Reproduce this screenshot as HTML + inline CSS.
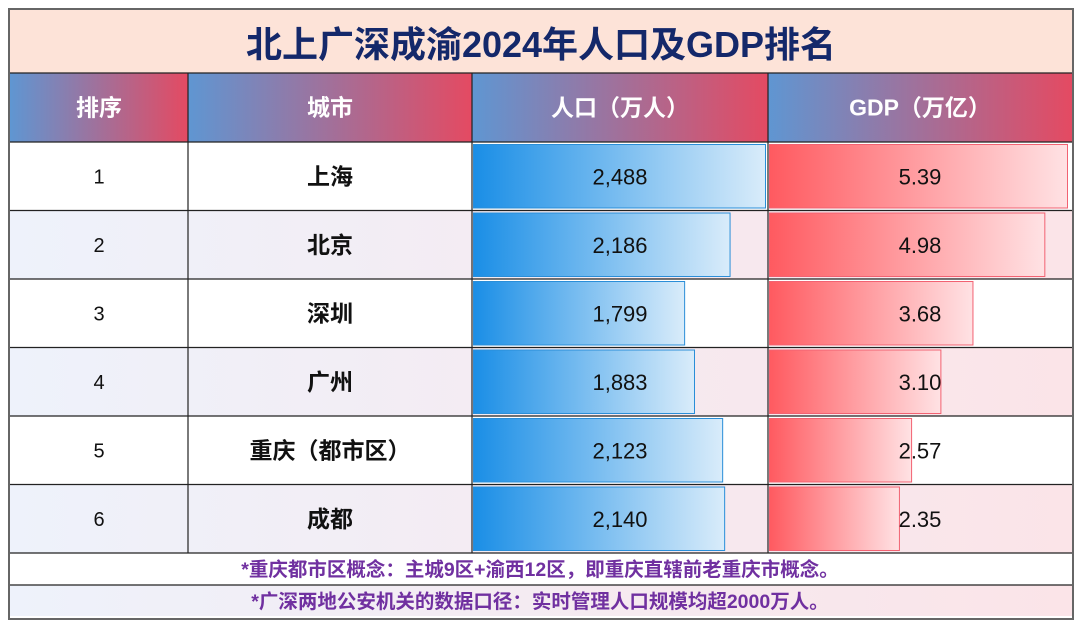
<!DOCTYPE html>
<html><head><meta charset="utf-8">
<style>
body{margin:0;width:1080px;height:626px;background:#fff;font-family:"Liberation Sans","Noto Sans CJK SC",sans-serif;position:relative;overflow:hidden}
#frame{position:absolute;left:8px;top:8px;width:1062px;height:608px;border:2px solid #666;box-sizing:content-box}
.cell{position:absolute;display:flex;align-items:center;justify-content:center}
</style></head><body>
<div id="frame"></div>
<div class="cell" style="left:10px;top:10px;width:1062px;height:63px;background:#fde3d8;color:#14286a;font-size:36px;font-weight:bold">北上广深成渝2024年人口及GDP排名</div>
<svg id="chart" width="1080" height="626" style="position:absolute;left:0;top:0">
<defs>
<linearGradient id="hg" x1="0" x2="1"><stop offset="0" stop-color="#5f96d2"/><stop offset="1" stop-color="#e44a62"/></linearGradient>
<linearGradient id="rowg" x1="0" x2="1"><stop offset="0" stop-color="#eef2fb"/><stop offset="1" stop-color="#fbe4e8"/></linearGradient>
<linearGradient id="bg" x1="0" x2="1"><stop offset="0" stop-color="#1a8ee6"/><stop offset="1" stop-color="#d9ecfa"/></linearGradient>
<linearGradient id="rg" x1="0" x2="1"><stop offset="0" stop-color="#ff5a60"/><stop offset="1" stop-color="#ffe2e4"/></linearGradient>
</defs>
<g id="g"></g>
</svg>
<script>
const ranks=["1","2","3","4","5","6"];
const cities=["上海","北京","深圳","广州","重庆（都市区）","成都"];
const population=[2488,2186,1799,1883,2123,2140];
const gdp=[5.39,4.98,3.68,3.10,2.57,2.35];
const headers=["排序","城市","人口（万人）","GDP（万亿）"];
const notes=["*重庆都市区概念：主城9区+渝西12区，即重庆直辖前老重庆市概念。","*广深两地公安机关的数据口径：实时管理人口规模均超2000万人。"];
const NS="http://www.w3.org/2000/svg";
const g=document.getElementById('g');
const colX=[10,188,472,768,1072];
const headTop=73,rowTop=142,rowH=68.5;
const popMax=2488,popW=292,gdpMax=5.39,gdpW=298;
const popScale=v=>v/popMax*popW;
const gdpScale=v=>v/gdpMax*gdpW;
function el(tag,attrs,txt){const e=document.createElementNS(NS,tag);for(const k in attrs)e.setAttribute(k,attrs[k]);if(txt!==undefined)e.textContent=txt;g.appendChild(e);return e;}
headers.forEach((h,i)=>{
 const r=el('rect',{x:colX[i],y:headTop,width:colX[i+1]-colX[i],height:rowTop-headTop,fill:'url(#hg)'});
 
 
 const t=el('text',{x:(colX[i]+colX[i+1])/2,y:(headTop+rowTop)/2+8,'text-anchor':'middle','font-size':23,'font-weight':'bold',fill:'#fff'},h);
 
 
});
ranks.forEach((rk,i)=>{
 const y=rowTop+i*rowH;
 if(i%2==1){const b=el('rect',{x:10,y:y,width:1062,height:rowH,fill:'url(#rowg)'});
  
  }
 const pb=el('rect',{x:473.5,y:y+2.5,width:popScale(population[i]),height:rowH-5,fill:'url(#bg)',stroke:'#2a8ed8','stroke-width':1});
 
 
 const gb=el('rect',{x:769.5,y:y+2.5,width:gdpScale(gdp[i]),height:rowH-5,fill:'url(#rg)',stroke:'#f26272','stroke-width':1});
 
 
 const cy=y+rowH/2+7;
 const t1=el('text',{x:99,y:cy,'text-anchor':'middle','font-size':20,fill:'#111'},rk);
 
 
 const t2=el('text',{x:330,y:cy+1,'text-anchor':'middle','font-size':23,'font-weight':'bold',fill:'#111'},cities[i]);
 
 
 const t3=el('text',{x:620,y:cy+1,'text-anchor':'middle','font-size':22,fill:'#111'},population[i].toLocaleString('en-US'));
 
 
 const t4=el('text',{x:920,y:cy+1,'text-anchor':'middle','font-size':22,fill:'#111'},gdp[i].toFixed(2));
 
 
});
const endY=rowTop+6*rowH;
const nb=el('rect',{x:10,y:endY+32,width:1062,height:616-endY-32,fill:'url(#rowg)'});


notes.forEach((n,i)=>{
 const t=el('text',{x:540,y:endY+23+i*32,'text-anchor':'middle','font-size':19.5,'font-weight':'bold',fill:'#7030a0'},n);
 
 
});
[73,rowTop].concat([1,2,3,4,5,6].map(k=>rowTop+k*rowH)).concat([endY+32]).forEach(y=>{
 const l=el('line',{x1:10,x2:1072,y1:y,y2:y,stroke:'#222','stroke-width':1.2});
 
 
});
[188,472,768].forEach(x=>{
 const l=el('line',{x1:x,x2:x,y1:headTop,y2:endY,stroke:'#222','stroke-width':1.2});
 
 
});
</script>
</body></html>
